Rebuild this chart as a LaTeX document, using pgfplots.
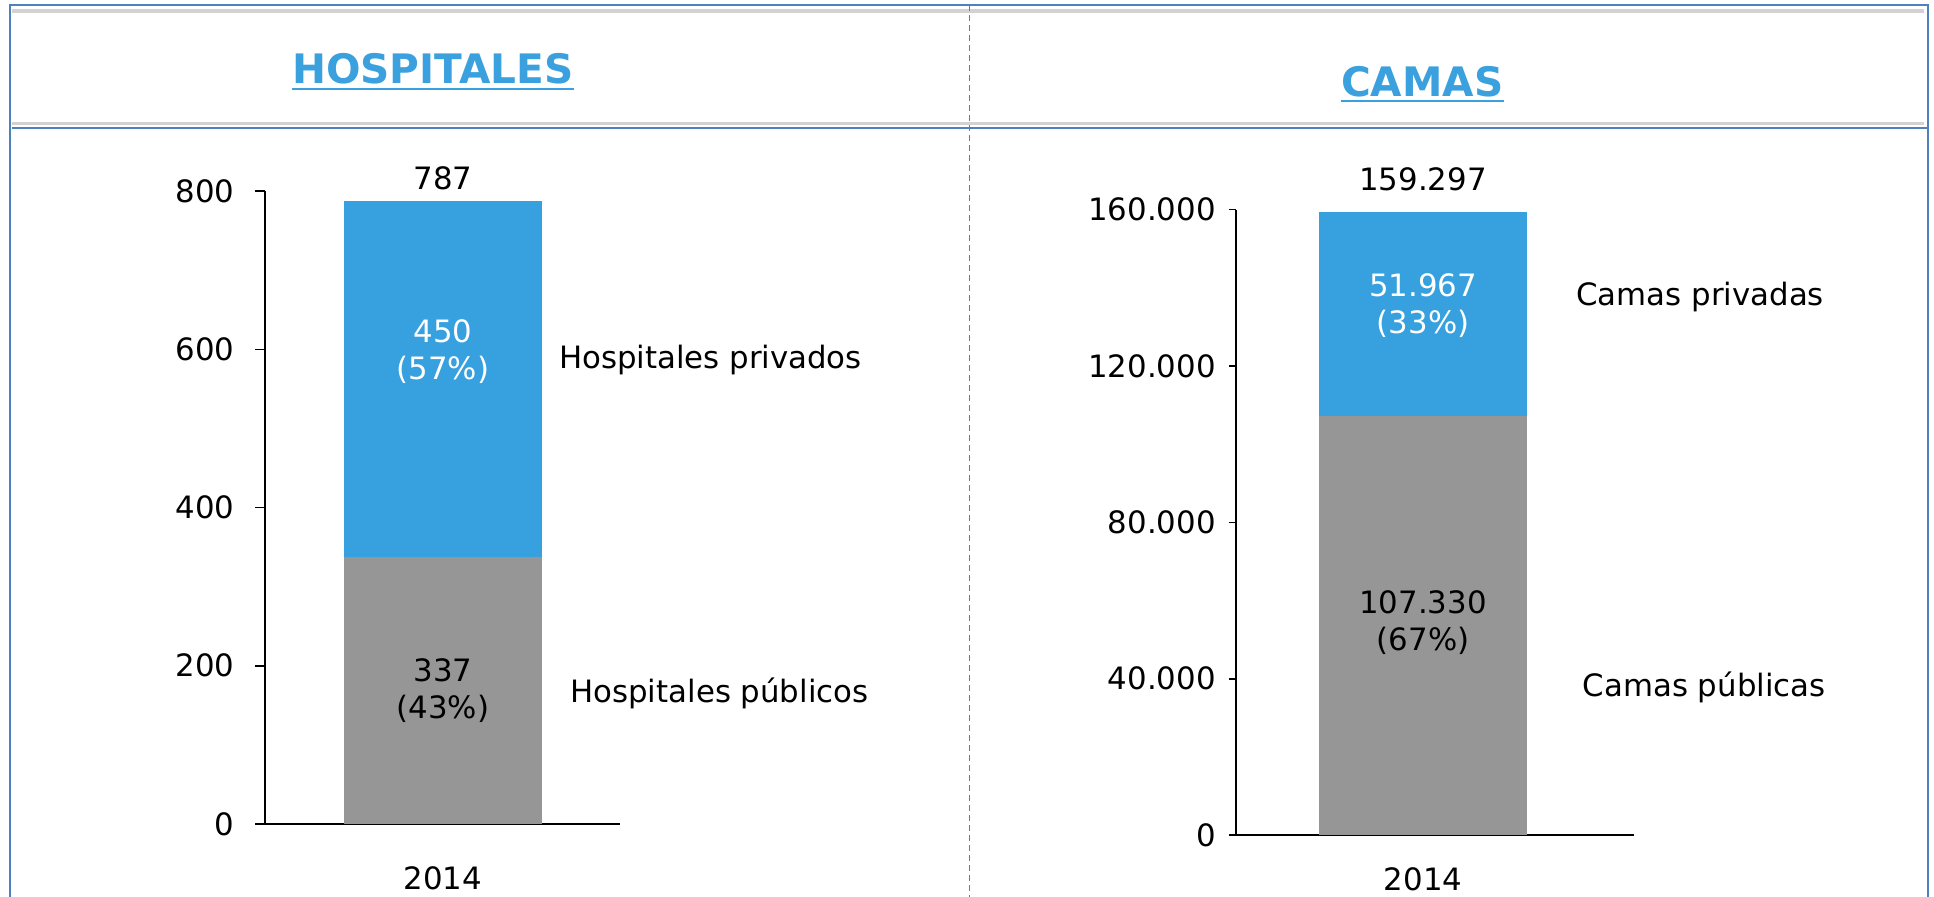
\documentclass[border=0pt]{standalone}
\usepackage{fontspec}
\setmainfont{DejaVu Sans}
\usepackage{pgfplots}
\pgfplotsset{compat=1.18}
\definecolor{barblue}{RGB}{55,160,222}
\definecolor{bargray}{RGB}{150,150,150}
\definecolor{frameblue}{RGB}{79,129,189}
\definecolor{titleblue}{RGB}{58,160,222}
\newcommand{\tf}{\fontsize{15.4}{18.5}\selectfont}
\begin{document}
\begin{tikzpicture}[x=0.6167pt,y=0.6167pt, font=\tf]
\path[use as bounding box] (0,0) rectangle (1568,727);
\begin{scope}
\clip (0,0) rectangle (1568,727);
\draw[gray!35, line width=1.6pt] (10,718) -- (1560,718);
\draw[gray!35, line width=1.6pt] (10,627) -- (1560,627);
\draw[frameblue, line width=0.9pt] (10,623) -- (1562,623);
\draw[frameblue, line width=0.9pt] (8,-10) -- (8,723) -- (1563,723) -- (1563,-10);
\draw[frameblue, line width=0.7pt, dash pattern=on 3pt off 2pt] (786,723) -- (786,-10);
\end{scope}
\node[anchor=base, inner sep=0, text=titleblue, font=\fontsize{20.3}{22}\selectfont\bfseries] (t1) at (351,659) {HOSPITALES};
\draw[titleblue, line width=1.2pt] ([yshift=-2.5pt]t1.base west) -- ([yshift=-2.5pt]t1.base east);
\node[anchor=base, inner sep=0, text=titleblue, font=\fontsize{20.3}{22}\selectfont\bfseries] (t2) at (1153,649) {CAMAS};
\draw[titleblue, line width=1.2pt] ([yshift=-2.5pt]t2.base west) -- ([yshift=-2.5pt]t2.base east);

\pgfplotstableread{
x pub priv
0.5 337 450
}\hosp
\pgfplotstableread{
x pub priv
0.47 107330 51967
}\camas

\begin{axis}[
  at={(132.6pt,36.4pt)}, anchor=south west,
  scale only axis, width=177.6pt, height=316.4pt,
  xmin=0, xmax=1, ymin=0, ymax=800,
  ybar stacked, bar width=99.3pt,
  axis x line=bottom, axis y line=left,
  axis line style={-, black, line width=0.8pt},
  xtick={0.5}, xticklabels={2014},
  xtick style={draw=none},
  ytick={0,200,400,600,800},
  tick align=outside, major tick length=4.9pt,
  ytick style={black, line width=0.8pt},
  tick label style={font=\tf},
  /pgf/number format/assume math mode=true,
  yticklabel style={xshift=-7pt},
  xticklabel style={yshift=-13pt},
  clip=false,
]
\addplot[fill=bargray, draw=none] table[x=x, y=pub] {\hosp};
\addplot[fill=barblue, draw=none] table[x=x, y=priv] {\hosp};
\coordinate (h1) at (axis cs:0.5,816);
\coordinate (h2) at (axis cs:0.5,597);
\coordinate (h3) at (axis cs:0.5,168);
\coordinate (h4) at (axis cs:0.826,586);
\coordinate (h5) at (axis cs:0.858,165);
\end{axis}
\node at (h1) {787};
\node[text=white, align=center] at (h2) {450\\(57\%)};
\node[align=center] at (h3) {337\\(43\%)};
\node[anchor=west, inner sep=0] at (h4) {Hospitales privados};
\node[anchor=west, inner sep=0] at (h5) {Hospitales públicos};

\begin{axis}[
  at={(617.9pt,30.8pt)}, anchor=south west,
  scale only axis, width=199.2pt, height=312.7pt,
  xmin=0, xmax=1, ymin=0, ymax=160000,
  ybar stacked, bar width=103.6pt,
  axis x line=bottom, axis y line=left,
  axis line style={-, black, line width=0.8pt},
  xtick={0.47}, xticklabels={2014},
  xtick style={draw=none},
  ytick={0,40000,80000,120000,160000},
  yticklabels={0,40.000,80.000,120.000,160.000},
  scaled y ticks=false,
  tick align=outside, major tick length=3.5pt,
  ytick style={black, line width=0.8pt},
  tick label style={font=\tf},
  /pgf/number format/assume math mode=true,
  yticklabel style={xshift=-3pt},
  xticklabel style={yshift=-9pt},
  clip=false,
]
\addplot[fill=bargray, draw=none] table[x=x, y=pub] {\camas};
\addplot[fill=barblue, draw=none] table[x=x, y=priv] {\camas};
\coordinate (c1) at (axis cs:0.47,167886);
\coordinate (c2) at (axis cs:0.47,135385);
\coordinate (c3) at (axis cs:0.47,54280);
\coordinate (c4) at (axis cs:0.854,137590);
\coordinate (c5) at (axis cs:0.870,37870);
\end{axis}
\node at (c1) {159.297};
\node[text=white, align=center] at (c2) {51.967\\(33\%)};
\node[align=center] at (c3) {107.330\\(67\%)};
\node[anchor=west, inner sep=0] at (c4) {Camas privadas};
\node[anchor=west, inner sep=0] at (c5) {Camas públicas};
\end{tikzpicture}
\end{document}
